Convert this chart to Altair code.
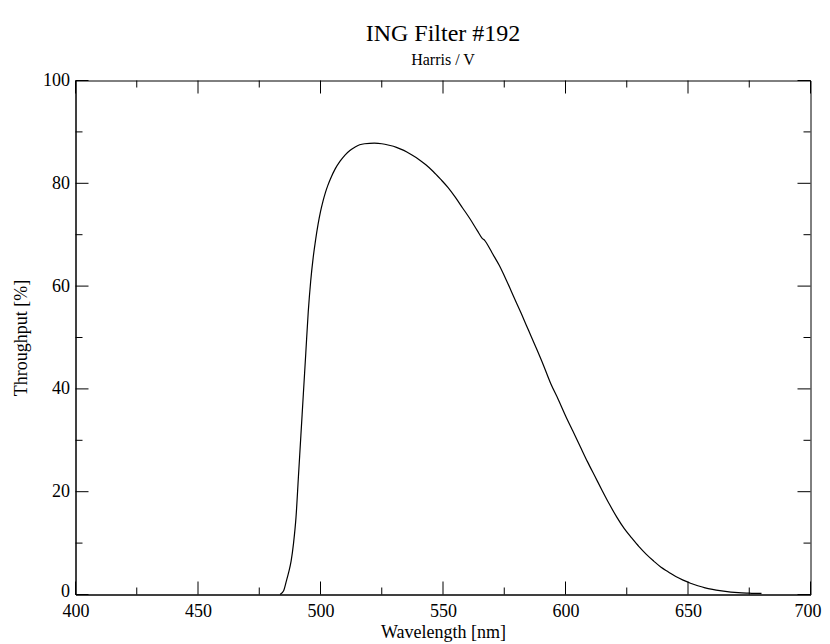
import altair as alt
import pandas as pd

wavelength = [483.5, 485, 486, 487, 488, 489, 490, 491, 492, 493, 494, 495, 496, 497, 498, 499,
              500, 501, 502, 503, 504, 506, 508, 510, 512, 514, 516, 518, 522, 525, 528, 531,
              534, 537, 540, 543, 546, 549, 552, 555, 558, 561, 564, 566, 567, 568, 570, 573, 576,
              579, 582, 585, 588, 591, 594, 597, 600, 603, 606, 609, 612, 615, 618, 621, 624,
              627, 630, 633, 636, 639, 642, 645, 648, 651, 654, 657, 660, 663, 666, 669, 672,
              675, 678, 680]
throughput = [0, 0.8, 2.5, 4.3, 6.5, 10, 15, 23, 31, 39, 47, 55, 61, 65.5, 69, 72,
              74.5, 76.5, 78.2, 79.6, 80.8, 82.8, 84.3, 85.5, 86.4, 87.0, 87.5, 87.7, 87.8, 87.7, 87.4, 87.0,
              86.4, 85.6, 84.7, 83.6, 82.3, 80.8, 79.2, 77.3, 75.2, 73.1, 70.8, 69.3, 68.9, 68.2, 66.5, 64.0, 61.0,
              57.8, 54.6, 51.3, 48.0, 44.6, 41.0, 38.0, 34.8, 31.8, 28.8, 25.8, 23.0, 20.2, 17.5, 15.0, 12.8,
              11.0, 9.3, 7.8, 6.5, 5.3, 4.4, 3.5, 2.8, 2.2, 1.7, 1.3, 1.0, 0.75, 0.55, 0.4, 0.3,
              0.25, 0.2, 0.2]

x_major = [400, 450, 500, 550, 600, 650, 700]
x_minor = [425, 475, 525, 575, 625, 675]
y_major = [0, 20, 40, 60, 80, 100]
y_minor = [10, 30, 50, 70, 90]

W, H = 735, 514
MAJ, MIN = 13, 7
FONT = "Liberation Serif"

df = pd.DataFrame({"wl": wavelength, "tp": throughput})

xs = alt.Scale(domain=[400, 700], nice=False, zero=False)
ys = alt.Scale(domain=[0, 100], nice=False)

axis_style = dict(ticks=False, grid=False, domainColor="black", domainWidth=1,
                  labelFont=FONT, labelFontSize=18, labelColor="black", labelFlush=False,
                  labelOverlap=False,
                  titleFont=FONT, titleFontSize=18, titleFontWeight="normal", titleColor="black",
                  format="d")

line = alt.Chart(df).mark_line(color="black", strokeWidth=1.2, interpolate="monotone").encode(
    x=alt.X("wl:Q", scale=xs,
            axis=alt.Axis(title="Wavelength [nm]", values=x_major, labelPadding=8, titlePadding=3,
                          labelOffset={"condition": {"test": "datum.value == 700", "value": -3},
                                       "value": 0},
                          **axis_style)),
    y=alt.Y("tp:Q", scale=ys,
            axis=alt.Axis(title="Throughput [%]", values=y_major, labelPadding=6, titlePadding=12,
                          labelOffset={"condition": {"test": "datum.value == 0", "value": -3},
                                       "value": 0},
                          **axis_style)),
)

def xticks(vals, length):
    d = pd.DataFrame({"v": vals})
    bottom = alt.Chart(d).mark_rule(color="black", strokeWidth=1).encode(
        x=alt.X("v:Q", scale=xs), y=alt.value(H), y2=alt.value(H - length))
    top = alt.Chart(d).mark_rule(color="black", strokeWidth=1).encode(
        x=alt.X("v:Q", scale=xs), y=alt.value(0), y2=alt.value(length))
    return [bottom, top]

def yticks(vals, length):
    d = pd.DataFrame({"v": vals})
    left = alt.Chart(d).mark_rule(color="black", strokeWidth=1).encode(
        y=alt.Y("v:Q", scale=ys), x=alt.value(0), x2=alt.value(length))
    right = alt.Chart(d).mark_rule(color="black", strokeWidth=1).encode(
        y=alt.Y("v:Q", scale=ys), x=alt.value(W), x2=alt.value(W - length))
    return [left, right]

layers = [line] + xticks(x_major, MAJ) + xticks(x_minor, MIN) + yticks(y_major, MAJ) + yticks(y_minor, MIN)

chart = alt.layer(*layers).properties(
    width=W, height=H,
    background="white",
    title=alt.TitleParams(text="ING Filter #192", subtitle="Harris / V", anchor="middle",
                          font=FONT, fontSize=24, fontWeight="normal", color="black",
                          subtitleFont=FONT, subtitleFontSize=16, subtitleColor="black",
                          subtitlePadding=6, offset=4),
    autosize=alt.AutoSizeParams(type="none"),
    padding={"left": 67.5, "top": 72.5, "right": 11.5, "bottom": 49.5},
).configure_view(stroke="black", strokeWidth=1)

chart.save("out.html", embed_options={"renderer": "svg", "actions": False})
